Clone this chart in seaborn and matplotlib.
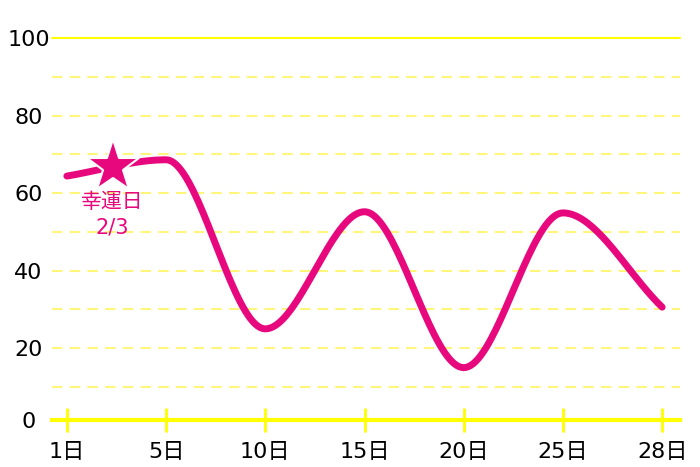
import numpy as np
import pandas as pd
import matplotlib
matplotlib.use('Agg')
import matplotlib.pyplot as plt
import seaborn as sns

# Data
days = ['1日', '5日', '10日', '15日', '20日', '25日', '28日']
values = [64.4, 68.6, 25.0, 55.2, 15.0, 54.9, 30.6]
lucky_label = '幸運日\n2/3'
lucky_pos = 0.46      # between 1日 and 5日
lucky_value = 66.8

y_ticks = [0, 20, 40, 60, 80, 100]
grid_levels = [10, 20, 30, 40, 50, 60, 70, 80, 90]

pink = '#E8087E'
yellow = '#FFFF00'
light_yellow = '#FFF67A'


def monotone_curve(y, n=40):
    # Fritsch-Carlson monotone cubic through equally spaced points
    y = np.asarray(y, dtype=float)
    x = np.arange(len(y), dtype=float)
    d = np.diff(y)
    m = np.zeros_like(y)
    m[0], m[-1] = d[0], d[-1]
    for i in range(1, len(y) - 1):
        if d[i - 1] * d[i] > 0:
            m[i] = 2 / (1 / d[i - 1] + 1 / d[i])
    xs, ys = [], []
    for i in range(len(y) - 1):
        t = np.linspace(0, 1, n, endpoint=False)
        h00 = 2 * t**3 - 3 * t**2 + 1
        h10 = t**3 - 2 * t**2 + t
        h01 = -2 * t**3 + 3 * t**2
        h11 = t**3 - t**2
        xs.append(x[i] + t)
        ys.append(h00 * y[i] + h10 * m[i] + h01 * y[i + 1] + h11 * m[i + 1])
    xs.append([x[-1]])
    ys.append([y[-1]])
    return np.concatenate(xs), np.concatenate(ys)


sns.set_style('white')
plt.rcParams['font.family'] = ['DejaVu Sans', 'Noto Sans CJK JP']

fig = plt.figure(figsize=(7, 4.67), dpi=100)
ax = fig.add_axes([52 / 700, 1 - 420 / 467, 628 / 700, (420 - 38) / 467])

cx, cy = monotone_curve(values)
curve = pd.DataFrame({'x': cx, 'y': cy})

for lv in grid_levels:
    ax.axhline(lv, color=light_yellow, lw=1.5, ls=(0, (5, 3.5)), zorder=1)
ax.axhline(100, color=yellow, lw=1.5, zorder=1, clip_on=False)

sns.lineplot(data=curve, x='x', y='y', ax=ax, color=pink, lw=5,
             solid_capstyle='round', zorder=3)
ax.plot([lucky_pos], [lucky_value], marker='*', ms=40, color=pink,
        mec='white', mew=1.5, zorder=4)
ax.text(lucky_pos, lucky_value - 6.5, lucky_label, color=pink, fontsize=15,
        ha='center', va='top', linespacing=1.35, zorder=4)

ax.set_xlim(-0.15, 6.18)
ax.set_ylim(1.5, 100)
ax.set_xticks(range(len(days)))
ax.set_xticklabels(days)
ax.set_yticks([1.5] + y_ticks[1:])
ax.set_yticklabels([str(v) for v in y_ticks])
ax.set_xlabel('')
ax.set_ylabel('')

for side in ['top', 'right', 'left']:
    ax.spines[side].set_visible(False)
ax.spines['bottom'].set_color(yellow)
ax.spines['bottom'].set_linewidth(3)

ax.tick_params(axis='x', bottom=True, direction='inout', length=17, width=2,
               color=yellow, labelsize=16, pad=7, labelcolor='black')
ax.tick_params(axis='y', left=False, length=0, labelsize=16, pad=17,
               labelcolor='black')
for lbl in ax.get_yticklabels():
    lbl.set_horizontalalignment('center')

fig.savefig('out.png', dpi=100)
